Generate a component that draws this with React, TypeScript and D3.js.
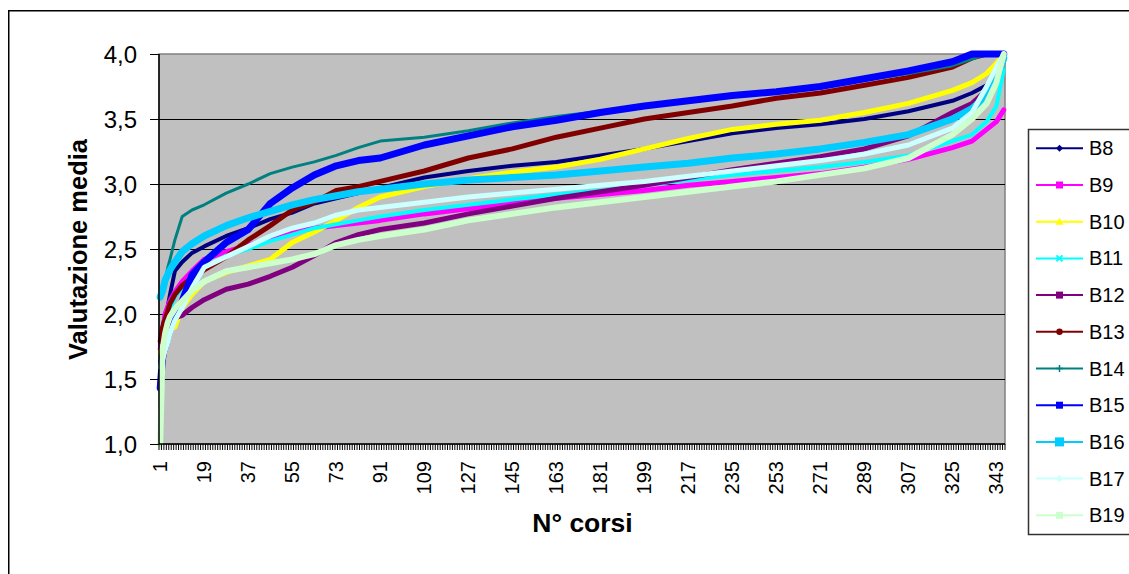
import React from "react";
import * as d3 from "d3";

const sampleIdx = [1, 2, 3, 4, 5, 7, 10, 14, 19, 28, 37, 46, 55, 64, 73, 82, 91, 109, 127, 145, 163, 181, 199, 217, 235, 253, 271, 289, 307, 325, 333, 339, 343, 346];

const B8 = [1.75, 1.9, 2.0, 2.05, 2.15, 2.33, 2.4, 2.47, 2.52, 2.6, 2.66, 2.73, 2.78, 2.85, 2.89, 2.93, 2.97, 3.05, 3.1, 3.14, 3.17, 3.22, 3.27, 3.33, 3.39, 3.43, 3.46, 3.5, 3.56, 3.64, 3.7, 3.76, 3.85, 3.97];
const B9 = [1.73, 1.85, 2.0, 2.05, 2.1, 2.17, 2.25, 2.33, 2.42, 2.48, 2.53, 2.58, 2.64, 2.66, 2.68, 2.7, 2.72, 2.77, 2.81, 2.85, 2.89, 2.92, 2.95, 2.99, 3.02, 3.05, 3.08, 3.13, 3.19, 3.28, 3.33, 3.42, 3.48, 3.57];
const B10 = [1.7, 1.75, 1.82, 1.86, 1.88, 1.9, 2.05, 2.15, 2.25, 2.32, 2.37, 2.42, 2.55, 2.63, 2.72, 2.82, 2.9, 2.98, 3.04, 3.09, 3.13, 3.19, 3.27, 3.35, 3.42, 3.46, 3.49, 3.55, 3.62, 3.72, 3.78, 3.85, 3.93, 4.0];
const B11 = [1.6, 1.75, 1.86, 1.95, 2.03, 2.13, 2.2, 2.28, 2.35, 2.45, 2.5, 2.56, 2.61, 2.66, 2.69, 2.72, 2.75, 2.8, 2.84, 2.88, 2.92, 2.95, 2.99, 3.03, 3.07, 3.1, 3.13, 3.17, 3.22, 3.33, 3.38, 3.48, 3.6, 3.88];
const B12 = [1.47, 1.6, 1.75, 1.86, 1.9, 1.97, 1.99, 2.05, 2.11, 2.19, 2.23, 2.29, 2.36, 2.45, 2.55, 2.61, 2.65, 2.7, 2.77, 2.83, 2.89, 2.94, 2.99, 3.05, 3.11, 3.16, 3.21, 3.27, 3.37, 3.55, 3.62, 3.72, 3.82, 3.95];
const B13 = [1.79, 1.9, 1.96, 2.02, 2.08, 2.15, 2.22, 2.28, 2.34, 2.44, 2.57, 2.68, 2.8, 2.86, 2.95, 2.98, 3.02, 3.1, 3.2, 3.27, 3.36, 3.43, 3.5, 3.55, 3.6, 3.66, 3.7, 3.76, 3.82, 3.9, 3.97, 4.0, 4.0, 4.0];
const B14 = [2.15, 2.2, 2.26, 2.35, 2.42, 2.57, 2.75, 2.8, 2.84, 2.93, 3.0, 3.08, 3.13, 3.17, 3.22, 3.28, 3.33, 3.36, 3.41, 3.47, 3.52, 3.56, 3.6, 3.64, 3.68, 3.72, 3.76, 3.8, 3.85, 3.91, 3.96, 4.0, 4.0, 4.0];
const B15 = [1.43, 1.68, 1.75, 1.82, 1.88, 1.98, 2.1, 2.3, 2.4, 2.55, 2.65, 2.85, 2.97, 3.07, 3.14, 3.18, 3.2, 3.3, 3.37, 3.44, 3.49, 3.55, 3.6, 3.64, 3.68, 3.71, 3.75, 3.81, 3.87, 3.94, 4.0, 4.0, 4.0, 4.0];
const B16 = [2.13, 2.18, 2.26, 2.3, 2.34, 2.4, 2.48, 2.54, 2.6, 2.68, 2.74, 2.79, 2.84, 2.88, 2.91, 2.94, 2.96, 3.0, 3.03, 3.05, 3.07, 3.1, 3.13, 3.16, 3.2, 3.23, 3.27, 3.32, 3.38, 3.5, 3.58, 3.68, 3.8, 3.97];
const B17 = [1.59, 1.65, 1.72, 1.78, 1.85, 1.95, 2.05, 2.2, 2.36, 2.44, 2.52, 2.6, 2.66, 2.7, 2.76, 2.8, 2.82, 2.86, 2.9, 2.93, 2.96, 2.99, 3.02, 3.06, 3.1, 3.14, 3.18, 3.23, 3.3, 3.43, 3.55, 3.75, 3.9, 4.0];
const B19 = [1.0, 1.73, 1.85, 1.93, 1.98, 2.04, 2.1, 2.18, 2.25, 2.33, 2.36, 2.39, 2.42, 2.46, 2.53, 2.57, 2.6, 2.65, 2.72, 2.77, 2.82, 2.86, 2.9, 2.94, 2.98, 3.02, 3.07, 3.12, 3.2, 3.38, 3.5, 3.62, 3.78, 4.0];

const seriesNames = ["B8", "B9", "B10", "B11", "B12", "B13", "B14", "B15", "B16", "B17", "B19"];
const seriesValues = [B8, B9, B10, B11, B12, B13, B14, B15, B16, B17, B19];
const seriesColors = ["#000080", "#FF00FF", "#FFFF00", "#00FFFF", "#800080", "#800000", "#008080", "#0000FF", "#00CCFF", "#CCFFFF", "#CCFFCC"];
const seriesWidths = [4, 5, 5, 4, 5, 5, 3, 7, 7, 5, 6];
const seriesMarkers = ["diamond", "square", "triangle", "cross", "square", "circle", "plus", "square", "bigsquare", "diamond", "square"];

const categoryCount = 346;
const xTickLabels = d3.range(1, categoryCount + 1, 18);
const yTicks = [1.0, 1.5, 2.0, 2.5, 3.0, 3.5, 4.0];

const W = 1129;
const H = 574;
const plot = { left: 159, top: 54, right: 1005, bottom: 444 };

function Marker({ type, x, y, color }: { type: string; x: number; y: number; color: string }) {
  if (type === "diamond") {
    const s = 3.5;
    return <path d={`M${x},${y - s}L${x + s},${y}L${x},${y + s}L${x - s},${y}Z`} fill={color} />;
  }
  if (type === "square") return <rect x={x - 3.5} y={y - 3.5} width={7} height={7} fill={color} />;
  if (type === "bigsquare") return <rect x={x - 4.5} y={y - 4.5} width={9} height={9} fill={color} />;
  if (type === "triangle") return <path d={`M${x},${y - 4}L${x + 4},${y + 3}L${x - 4},${y + 3}Z`} fill={color} />;
  if (type === "circle") return <circle cx={x} cy={y} r={3.2} fill={color} />;
  if (type === "cross")
    return <path d={`M${x - 3},${y - 3}L${x + 3},${y + 3}M${x + 3},${y - 3}L${x - 3},${y + 3}`} stroke={color} strokeWidth={2} />;
  if (type === "plus")
    return <path d={`M${x - 3.5},${y}L${x + 3.5},${y}M${x},${y - 3.5}L${x},${y + 3.5}`} stroke={color} strokeWidth={1.5} />;
  return null;
}

export default function App() {
  const x = d3.scaleLinear().domain([0.5, categoryCount + 0.5]).range([plot.left, plot.right]);
  const y = d3.scaleLinear().domain([1, 4]).range([plot.bottom, plot.top]);
  const line = d3
    .line<[number, number]>()
    .x((d) => x(d[0]))
    .y((d) => y(d[1]));
  const fmt = (v: number) => d3.format(".1f")(v).replace(".", ",");
  const font = "Arial, 'Liberation Sans', sans-serif";
  const boundaries = d3.range(0, categoryCount + 1);

  const legendTop = 148.3;
  const legendStep = 36.7;

  return (
    <svg width={W} height={H} style={{ position: "absolute", left: 0, top: 0, display: "block" }} fontFamily={font}>
      <rect x={0} y={0} width={W} height={H} fill="#ffffff" />
      {/* outer frame */}
      <rect x={8.75} y={10.75} width={W + 20} height={H + 20} fill="none" stroke="#000" strokeWidth={1.5} />

      {/* plot area */}
      <rect x={plot.left} y={plot.top} width={plot.right - plot.left} height={plot.bottom - plot.top} fill="#C0C0C0" stroke="#808080" strokeWidth={1.5} />
      {yTicks.filter((v) => v > 1 && v < 4).map((v) => (
        <line key={v} x1={plot.left} x2={plot.right} y1={Math.round(y(v)) + 0.5} y2={Math.round(y(v)) + 0.5} stroke="#000" strokeWidth={1} />
      ))}

      {/* series */}
      {seriesValues.map((vals, si) => {
        const pts = sampleIdx.map((i, k) => [i, vals[k]] as [number, number]);
        return (
          <path key={seriesNames[si]} d={line(pts) || ""} fill="none" stroke={seriesColors[si]} strokeWidth={seriesWidths[si]} strokeLinejoin="round" strokeLinecap="round" />
        );
      })}

      {/* axes */}
      <line x1={plot.left} x2={plot.left} y1={plot.top} y2={plot.bottom} stroke="#000" strokeWidth={1.5} />
      <line x1={plot.left} x2={plot.right} y1={plot.bottom} y2={plot.bottom} stroke="#000" strokeWidth={1.5} />
      {yTicks.map((v) => (
        <g key={v}>
          <line x1={150} x2={plot.left} y1={Math.round(y(v)) + 0.5} y2={Math.round(y(v)) + 0.5} stroke="#000" strokeWidth={1} />
          <text x={137} y={y(v) + 8.5} textAnchor="end" fontSize={24} fill="#000">
            {fmt(v)}
          </text>
        </g>
      ))}
      {boundaries.map((b) => (
        <line key={b} x1={x(b + 0.5)} x2={x(b + 0.5)} y1={plot.bottom} y2={plot.bottom + 6} stroke="#000" strokeWidth={1} />
      ))}
      {xTickLabels.map((c) => (
        <text key={c} transform={`translate(${x(c)},461) rotate(-90)`} textAnchor="end" dominantBaseline="central" fontSize={20} fill="#000">
          {c}
        </text>
      ))}

      {/* titles */}
      <text x={582.5} y={531.5} textAnchor="middle" fontSize={26.5} fontWeight="bold" fill="#000">
        N° corsi
      </text>
      <text transform="translate(87,249.5) rotate(-90)" textAnchor="middle" fontSize={25.5} fontWeight="bold" fill="#000">
        Valutazione media
      </text>

      {/* legend */}
      <rect x={1028.5} y={129.5} width={140} height={405} fill="#fff" stroke="#333" strokeWidth={1.5} />
      {seriesNames.map((n, i) => {
        const ly = legendTop + i * legendStep;
        return (
          <g key={n}>
            <line x1={1036} x2={1083} y1={ly} y2={ly} stroke={seriesColors[i]} strokeWidth={2} />
            <Marker type={seriesMarkers[i]} x={1059.5} y={ly} color={seriesColors[i]} />
            <text x={1089} y={ly + 7} fontSize={20} fill="#000">
              {n}
            </text>
          </g>
        );
      })}
    </svg>
  );
}
